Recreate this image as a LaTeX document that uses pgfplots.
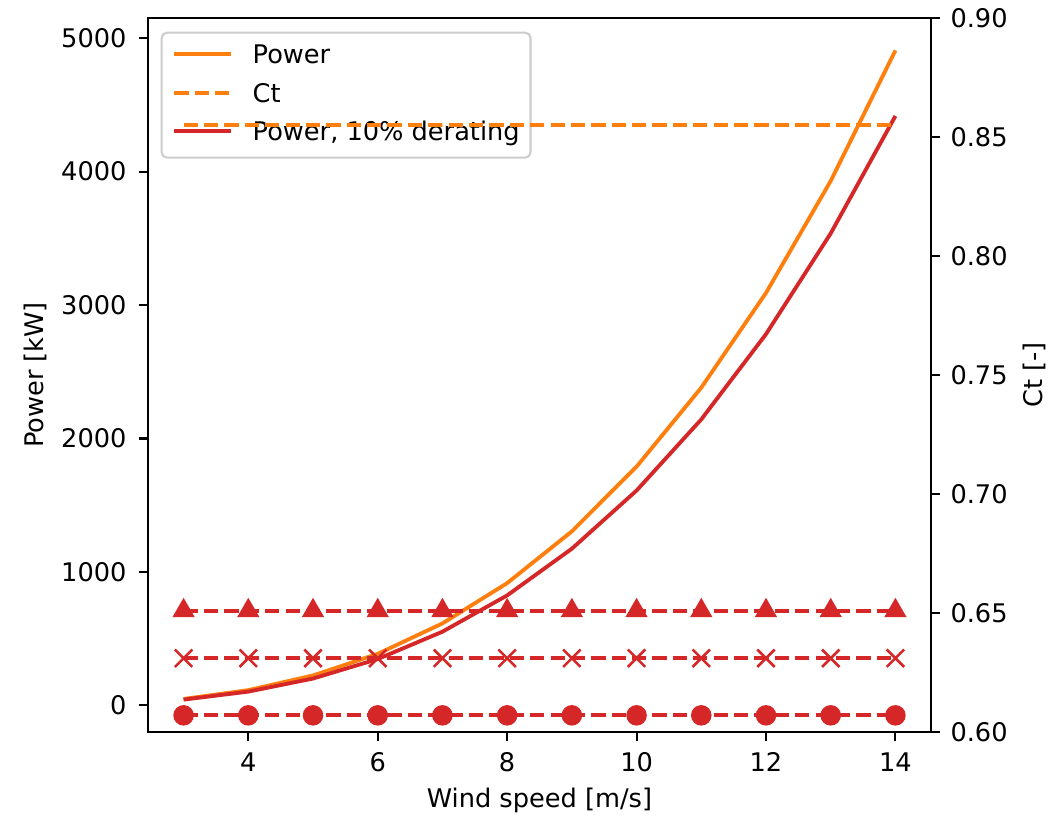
\documentclass[border=0pt]{standalone}
\usepackage{fontspec}
\setmainfont{DejaVu Sans}
\usepackage{pgfplots}
\pgfplotsset{compat=1.18}
\definecolor{mplorange}{RGB}{255,127,14}
\definecolor{mplred}{RGB}{214,39,40}
\begin{document}
\fontsize{10}{12}\selectfont
\begin{tikzpicture}
\pgfplotsset{
  common/.style={
    width=305.37pt, height=278.46pt, scale only axis,
    xmin=2.45, xmax=14.55,
    tick align=outside, major tick length=3.5pt,
    every tick/.style={black, line width=0.8pt},
    axis line style={line width=0.8pt},
    /pgf/number format/assume math mode=true,
    tick label style={font=\fontsize{10}{12}\selectfont},
    label style={font=\fontsize{10}{12}\selectfont},
    mydash/.style={dash pattern=on 5.55pt off 2.4pt},
  }
}
\begin{axis}[common,
  ymin=-199.7, ymax=5151.4,
  xtick={4,6,8,10,12,14},
  ytick={0,1000,2000,3000,4000,5000},
  scaled y ticks=false,
  yticklabel style={/pgf/number format/1000 sep={}, anchor=east, inner sep=0pt, xshift=-4.7pt},
  xticklabel style={anchor=north, inner sep=0pt, yshift=-4.3pt},
  ytick pos=left, xtick pos=bottom,
  xlabel={Wind speed [m/s]}, ylabel={Power [kW]},
  every axis x label/.style={at={(axis description cs:0.5,-0.1064)}, anchor=base},
  every axis y label/.style={at={(axis description cs:-0.1341,0.5)}, anchor=base, rotate=90},
  legend cell align=left,
  legend image code/.code={\draw[#1] (0pt,3.8pt) -- (22pt,3.8pt);},
  legend style={at={(axis description cs:0.0162,0.9808)}, anchor=north west,
    draw=black!20, line width=0.8pt, rounded corners=2pt, fill=white, fill opacity=0.8, text opacity=1,
    inner xsep=4.2pt, inner ysep=4.6pt, row sep=5.5pt,
    font=\fontsize{10}{12}\selectfont,
    nodes={inner sep=0pt, text height=7.6pt, text depth=1.9pt, anchor=base west},
    /tikz/every odd column/.style={column sep=7.8pt}},
]
\addplot[mplorange, line width=1.5pt] coordinates {
 (3,48) (4,114) (5,224) (6,386) (7,614) (8,916) (9,1304) (10,1789) (11,2381) (12,3091) (13,3930) (14,4908)};
\addlegendentry{Power}
\addlegendimage{mplorange, line width=1.5pt, mydash}
\addlegendentry{Ct}
\addplot[mplred, line width=1.5pt] coordinates {
 (3,43) (4,103) (5,201) (6,347) (7,552) (8,824) (9,1174) (10,1610) (11,2143) (12,2782) (13,3537) (14,4417)};
\addlegendentry{Power, 10\% derating}
\end{axis}
\begin{axis}[common,
  ymin=0.6, ymax=0.9,
  hide x axis,
  ytick={0.60,0.65,0.70,0.75,0.80,0.85,0.90},
  ytick pos=right, yticklabel pos=right,
  yticklabel style={/pgf/number format/.cd, fixed, fixed zerofill, precision=2, /tikz/.cd, anchor=west, inner sep=0pt, xshift=3.9pt},
  ylabel={Ct [-]},
  every axis y label/.style={at={(axis description cs:1.1418,0.5)}, anchor=base, rotate=90},
]
\addplot[mplorange, line width=1.5pt, mydash] coordinates {
 (3,0.855) (4,0.855) (5,0.855) (6,0.855) (7,0.855) (8,0.855) (9,0.855) (10,0.855) (11,0.855) (12,0.855) (13,0.855) (14,0.855)};
\addplot[mplred, line width=1.5pt, mydash, mark=triangle*, mark size=4pt, mark options={solid, line width=1pt}] coordinates {
 (3,0.651) (4,0.651) (5,0.651) (6,0.651) (7,0.651) (8,0.651) (9,0.651) (10,0.651) (11,0.651) (12,0.651) (13,0.651) (14,0.651)};
\addplot[mplred, line width=1.5pt, mydash, mark=x, mark size=4.8pt, mark options={solid, line width=1pt}] coordinates {
 (3,0.631) (4,0.631) (5,0.631) (6,0.631) (7,0.631) (8,0.631) (9,0.631) (10,0.631) (11,0.631) (12,0.631) (13,0.631) (14,0.631)};
\addplot[mplred, line width=1.5pt, mydash, mark=*, mark size=3.5pt, mark options={solid, line width=1pt}] coordinates {
 (3,0.607) (4,0.607) (5,0.607) (6,0.607) (7,0.607) (8,0.607) (9,0.607) (10,0.607) (11,0.607) (12,0.607) (13,0.607) (14,0.607)};
\end{axis}
\pgfresetboundingbox
\useasboundingbox (-57.72pt,-32.76pt) rectangle (356.07pt,285.48pt);
\end{tikzpicture}
\end{document}
